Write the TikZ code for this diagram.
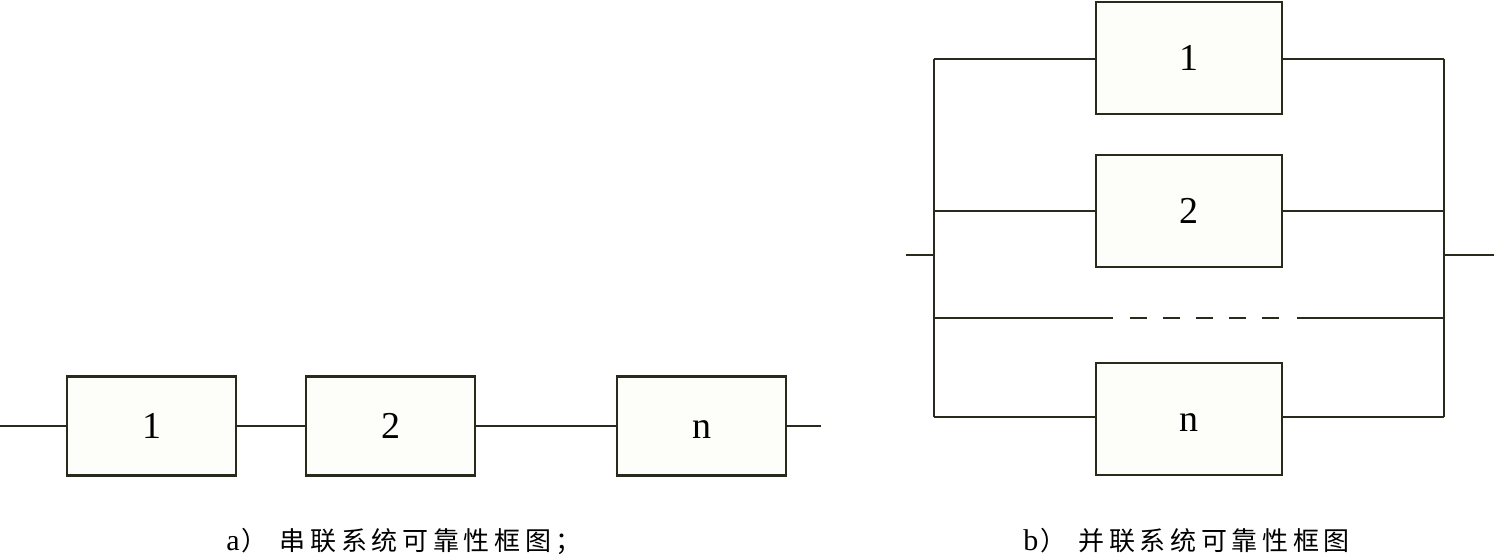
\documentclass[tikz,border=0pt]{standalone}
\usepackage{fontspec}
\setmainfont{Liberation Serif}
\newfontfamily\cjk{Noto Sans CJK SC}[LetterSpace=18]
\begin{document}
\begin{tikzpicture}[x=0.5pt,y=-0.5pt,
  ln/.style={draw=linecol,line width=1.3pt},
  blockbox/.style={ln,fill=boxfill,inner sep=0pt,font=\fontsize{19}{19}\selectfont},
  sbox/.style={blockbox,minimum width=84.5pt,minimum height=49.5pt},
  pbox/.style={blockbox,minimum width=93pt,minimum height=56pt},
  captext/.style={inner sep=0pt,font=\fontsize{13}{13}\selectfont}]
\definecolor{linecol}{HTML}{2A2A1C}
\definecolor{boxfill}{HTML}{FDFDFA}
\useasboundingbox (0,0) rectangle (1494,556);
% series
\coordinate (s0) at (0,426);
\coordinate (se) at (821,426);
\node[sbox] (a1) at (151.5,426) {1};
\node[sbox] (a2) at (390.5,426) {2};
\node[sbox] (an) at (701.5,426) {n\vphantom{1}};
\draw[ln] (s0) -- (a1.west);
\draw[ln] (a1.east) -- (a2.west);
\draw[ln] (a2.east) -- (an.west);
\draw[ln] (an.east) -- (se);
% parallel
\coordinate (in) at (906,255);
\coordinate (out) at (1494,255);
\coordinate (Ltop) at (934,59);
\coordinate (Lbot) at (934,417);
\coordinate (Rtop) at (1444,59);
\coordinate (Rbot) at (1444,417);
\node[pbox] (p1) at (1189,58) {1};
\node[pbox] (p2) at (1189,211) {2};
\node[pbox] (pn) at (1189,419) {n\vphantom{1}};
\draw[ln] (Ltop) -- (Lbot);
\draw[ln] (Rtop) -- (Rbot);
\draw[ln] (in) -- (in -| Ltop);
\draw[ln] (out -| Rtop) -- (out);
\draw[ln] (Ltop) -- (Ltop -| p1.west);
\draw[ln] (Rtop -| p1.east) -- (Rtop);
\draw[ln] (934,211) -- (p2.west);
\draw[ln] (p2.east) -- (1444,211);
\draw[ln] (Lbot) -- (Lbot -| pn.west);
\draw[ln] (Rbot -| pn.east) -- (Rbot);
\coordinate (D1) at (934,318);
\coordinate (D2) at (1113,318);
\coordinate (D3) at (1130,318);
\coordinate (D4) at (1280,318);
\coordinate (D5) at (1297,318);
\coordinate (D6) at (1444,318);
\draw[ln] (D1) -- (D2);
\draw[ln,dash pattern=on 8.5pt off 8pt] (D3) -- (D4);
\draw[ln] (D5) -- (D6);
% captions
\node[captext,anchor=west] (capa) at (226,541) {{\fontsize{15}{15}\selectfont a}\hspace{1pt}{\cjk ）}\hspace{6pt}{\cjk 串联系统可靠性框图；}};
\node[captext,anchor=west] (capb) at (1023,541) {{\fontsize{15}{15}\selectfont b}\hspace{1pt}{\cjk ）}\hspace{6pt}{\cjk 并联系统可靠性框图}};
\end{tikzpicture}
\end{document}
